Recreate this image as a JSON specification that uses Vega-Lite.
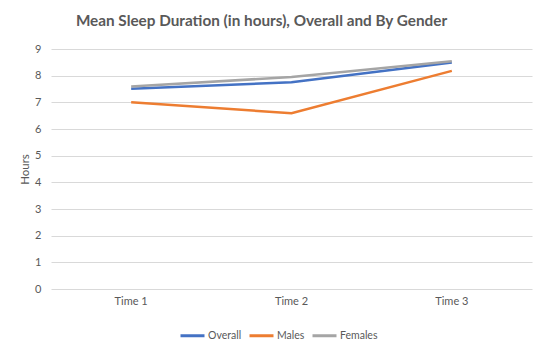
{
  "$schema": "https://vega.github.io/schema/vega-lite/v6.json",
  "autosize": "none",
  "width": 481,
  "height": 240,
  "padding": {"left": 51, "top": 49, "right": 18, "bottom": 61},
  "background": "white",
  "title": {
    "text": "Mean Sleep Duration (in hours), Overall and By Gender",
    "font": "Lato",
    "fontSize": 15.3,
    "fontWeight": "bold",
    "color": "#595959",
    "anchor": "middle",
    "dx": -30,
    "offset": 14
  },
  "data": {
    "values": [
      {"time": "Time 1", "series": "Overall", "hours": 7.51},
      {"time": "Time 2", "series": "Overall", "hours": 7.75},
      {"time": "Time 3", "series": "Overall", "hours": 8.49},
      {"time": "Time 1", "series": "Males", "hours": 7.0},
      {"time": "Time 2", "series": "Males", "hours": 6.59},
      {"time": "Time 3", "series": "Males", "hours": 8.18},
      {"time": "Time 1", "series": "Females", "hours": 7.59},
      {"time": "Time 2", "series": "Females", "hours": 7.95},
      {"time": "Time 3", "series": "Females", "hours": 8.54}
    ]
  },
  "mark": {"type": "line", "strokeWidth": 2.5},
  "encoding": {
    "x": {
      "field": "time",
      "type": "ordinal",
      "scale": {"type": "band", "paddingInner": 0, "paddingOuter": 0},
      "axis": {
        "title": null,
        "labelAngle": 0,
        "domain": false,
        "ticks": false,
        "labelFont": "Lato",
        "labelFontSize": 11,
        "labelColor": "#595959",
        "labelPadding": 6
      }
    },
    "y": {
      "field": "hours",
      "type": "quantitative",
      "scale": {"domain": [0, 9], "nice": false},
      "axis": {
        "title": "Hours",
        "titleFont": "Lato",
        "titleFontSize": 11.5,
        "titleFontWeight": "normal",
        "titleColor": "#595959",
        "titlePadding": 4,
        "values": [0, 1, 2, 3, 4, 5, 6, 7, 8, 9],
        "domain": false,
        "ticks": false,
        "grid": true,
        "gridColor": "#D9D9D9",
        "gridWidth": 1,
        "labelFont": "Lato",
        "labelFontSize": 11,
        "labelColor": "#595959",
        "labelPadding": 10
      }
    },
    "color": {
      "field": "series",
      "type": "nominal",
      "sort": ["Overall", "Males", "Females"],
      "scale": {"domain": ["Overall", "Males", "Females"], "range": ["#4472C4", "#ED7D31", "#A5A5A5"]},
      "legend": {
        "title": null,
        "orient": "none",
        "direction": "horizontal",
        "legendX": 128,
        "legendY": 273,
        "symbolType": "stroke",
        "symbolStrokeWidth": 3,
        "symbolSize": 576,
        "labelOffset": 2,
        "columnPadding": 1,
        "labelFont": "Lato",
        "labelFontSize": 10.5,
        "labelColor": "#595959"
      }
    }
  },
  "config": {"view": {"stroke": null}}
}
